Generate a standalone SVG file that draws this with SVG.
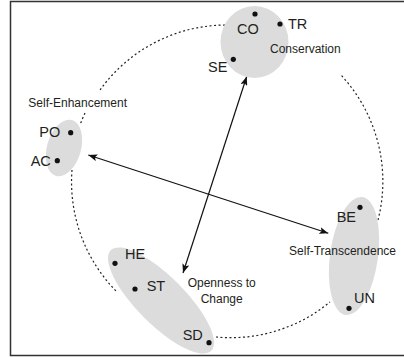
<svg xmlns="http://www.w3.org/2000/svg" width="404" height="357" viewBox="0 0 404 357">
<style>
.grp{fill:#dcdcdc;stroke:none}
.dot{fill:#111}
.lbl{font-family:"Liberation Sans",Arial,sans-serif;font-size:14.5px;fill:#231f20}
.cap{font-family:"Liberation Sans",Arial,sans-serif;font-size:12px;fill:#231f20}
.dash{fill:none;stroke:#222;stroke-width:1.2;stroke-dasharray:2 2.5}
.arr{fill:none;stroke:#111;stroke-width:1.2}
</style>
<defs>
<marker id="ah" viewBox="0 0 9 7" refX="9" refY="3.5" markerWidth="9" markerHeight="7" markerUnits="userSpaceOnUse" orient="auto-start-reverse">
<path d="M0,0 L9,3.5 L0,7 L2,3.5 z" fill="#111"/>
</marker>
</defs>
<rect x="10.5" y="1.5" width="400" height="354" fill="#fff" stroke="#333" stroke-width="1.5"/>
<g id="connectors">
<path class="dash" d="M225,25 A156,156 0 0 0 100,90"/>
<path class="dash" d="M85,113 A156,156 0 0 0 80,125"/>
<path class="dash" d="M72,170 A156,156 0 0 0 116,291"/>
<path class="dash" d="M216,337 A156,156 0 0 0 330,302"/>
<path class="dash" d="M378,220 A156,156 0 0 0 340,74"/>
<path class="arr" d="M183,273 L246.7,76.5" marker-start="url(#ah)" marker-end="url(#ah)"/>
<path class="arr" d="M88.3,155 L328.3,233.3" marker-start="url(#ah)" marker-end="url(#ah)"/>
</g>
<g id="conservation">
<ellipse class="grp" cx="254.5" cy="42" rx="34" ry="36"/>
<circle class="dot" cx="255" cy="14" r="2.6"/>
<circle class="dot" cx="280" cy="24" r="2.6"/>
<circle class="dot" cx="233.3" cy="59.3" r="2.6"/>
<text class="lbl" x="237" y="34.3">CO</text>
<text class="lbl" x="288" y="29.3">TR</text>
<text class="lbl" x="208" y="71.7">SE</text>
<text class="cap" x="270" y="53.3">Conservation</text>
</g>
<g id="self-enhancement">
<ellipse class="grp" cx="64" cy="148" rx="17" ry="29" transform="rotate(16 64 148)"/>
<circle class="dot" cx="70.7" cy="132.7" r="2.6"/>
<circle class="dot" cx="57.3" cy="160.7" r="2.6"/>
<text class="lbl" x="39.3" y="136.7">PO</text>
<text class="lbl" x="30.7" y="166">AC</text>
<text class="cap" x="28.3" y="106.7">Self-Enhancement</text>
</g>
<g id="self-transcendence">
<ellipse class="grp" cx="354" cy="256" rx="24" ry="59.5" transform="rotate(8 354 256)"/>
<circle class="dot" cx="360" cy="207.3" r="2.6"/>
<circle class="dot" cx="349" cy="308.3" r="2.6"/>
<text class="lbl" x="336.7" y="221.7">BE</text>
<text class="lbl" x="354" y="303.3">UN</text>
<text class="cap" x="396" y="255" text-anchor="end">Self-Transcendence</text>
</g>
<g id="openness">
<ellipse class="grp" cx="161" cy="300.5" rx="71" ry="24" transform="rotate(45 161 300.5)"/>
<circle class="dot" cx="115" cy="263.3" r="2.6"/>
<circle class="dot" cx="135" cy="289" r="2.6"/>
<circle class="dot" cx="209" cy="342.7" r="2.6"/>
<text class="lbl" x="125" y="259.3">HE</text>
<text class="lbl" x="146.7" y="291">ST</text>
<text class="lbl" x="182.7" y="340">SD</text>
<text class="cap" x="221.7" y="286.7" text-anchor="middle">Openness to</text>
<text class="cap" x="221.7" y="302.7" text-anchor="middle">Change</text>
</g>
</svg>
